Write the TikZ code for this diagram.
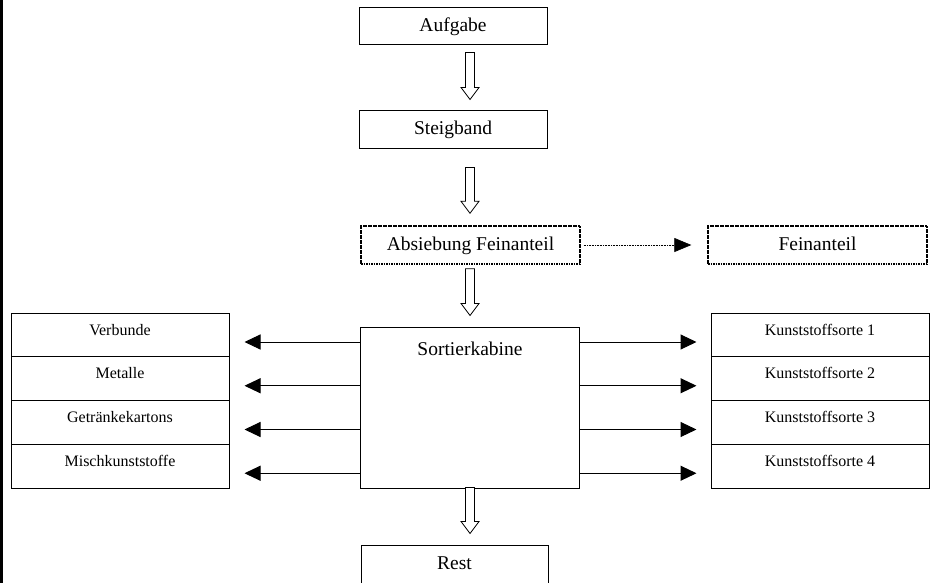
\documentclass[tikz,border=0pt]{standalone}
\usepackage{fontspec}
\setmainfont{Liberation Serif}
\usetikzlibrary{calc,arrows.meta}
\newcommand\mainsz{\fontsize{19.5pt}{23pt}\selectfont}
\newcommand\smallsz{\fontsize{16pt}{19pt}\selectfont}
% hollow block arrow from node #1 to node #2, x taken from node sort
% #3 gap below #1, #4 gap above #2
\newcommand\blockarr[4]{%
  \draw[blockarrow] let \p1=($(#1.south -| sort.center)+(0,#3)$),
                        \p2=($(#2.north -| sort.center)+(0,-#4)$) in
    (\x1-4.5pt,\y1) -- (\x1+4.5pt,\y1) -- (\x1+4.5pt,\y2+12pt) -- (\x1+9pt,\y2+12pt)
    -- (\x1,\y2) -- (\x1-9pt,\y2+12pt) -- (\x1-4.5pt,\y2+12pt) -- cycle;}
\tikzset{
  box/.style={draw, line width=1pt, rectangle, inner sep=0pt, font=\mainsz,
              text height=14pt, text depth=4pt},
  dotbox/.style={box, line width=1.4pt, dash pattern=on 1.6pt off 0.9pt},
  stackbox/.style={draw, line width=1pt, rectangle, inner sep=0pt,
              minimum width=218pt, minimum height=43.75pt, font=\smallsz,
              text height=11pt, text depth=11pt},
  sidearrow/.style={line width=1pt, -{Triangle[length=16pt,width=15pt]}},
  dotarrow/.style={line width=0.6pt, dash pattern=on 0.8pt off 0.8pt, -{Triangle[length=17pt,width=14pt]}},
  blockarrow/.style={draw, line width=0.8pt, fill=white, line join=miter},
}
\begin{document}
\begin{tikzpicture}[x=1pt,y=-1pt]
\useasboundingbox (0,0) rectangle (931,583);
\fill[white] (0,0) rectangle (931,583);
\fill[black] (0,0) rectangle (3,583);

% main chain
\node[box, minimum width=188pt, minimum height=37pt] (auf) at (453,26.5) {Aufgabe};
\node[box, minimum width=188pt, minimum height=38pt] (steig) at (453,129.5) {Steigband};
\node[dotbox, minimum width=219pt, minimum height=38pt] (abs) at (470.5,245) {Absiebung Feinanteil};
\node[dotbox, minimum width=219pt, minimum height=38pt] (fein) at (817.5,245) {Feinanteil};
\node[box, minimum width=219pt, minimum height=161pt, inner sep=0pt,
      text height=28pt, text depth=133pt] (sort) at (470,407.5) {Sortierkabine};
\node[box, minimum width=187pt, minimum height=38pt] (rest) at (454.5,564) {Rest};

% left stack
\node[stackbox] (v1) at (120,335) {Verbunde};
\node[stackbox] (v2) at (120,378.75) {Metalle};
\node[stackbox] (v3) at (120,422.5) {Getränkekartons};
\node[stackbox] (v4) at (120,466.25) {Mischkunststoffe};

% right stack
\node[stackbox] (k1) at (820,335) {Kunststoffsorte 1};
\node[stackbox] (k2) at (820,378.75) {Kunststoffsorte 2};
\node[stackbox] (k3) at (820,422.5) {Kunststoffsorte 3};
\node[stackbox] (k4) at (820,466.25) {Kunststoffsorte 4};

% block arrows
\blockarr{auf}{steig}{7}{10.5}
\blockarr{steig}{abs}{18.5}{12}
\blockarr{abs}{sort}{4}{11}
\blockarr{sort}{rest}{-1}{11}

% dotted arrow
\draw[dotarrow] ($(abs.east)+(3,0)$) -- ($(fein.west)+(-16,0)$);

% side arrows
\foreach \n in {1,2,3,4}{
  \draw[sidearrow] ($(sort.west |- v\n.center)+(0,7)$) -- ($(v\n.east)+(15,7)$);
  \draw[sidearrow] ($(sort.east |- k\n.center)+(0,7)$) -- ($(k\n.west)+(-14,7)$);
}
\end{tikzpicture}
\end{document}
